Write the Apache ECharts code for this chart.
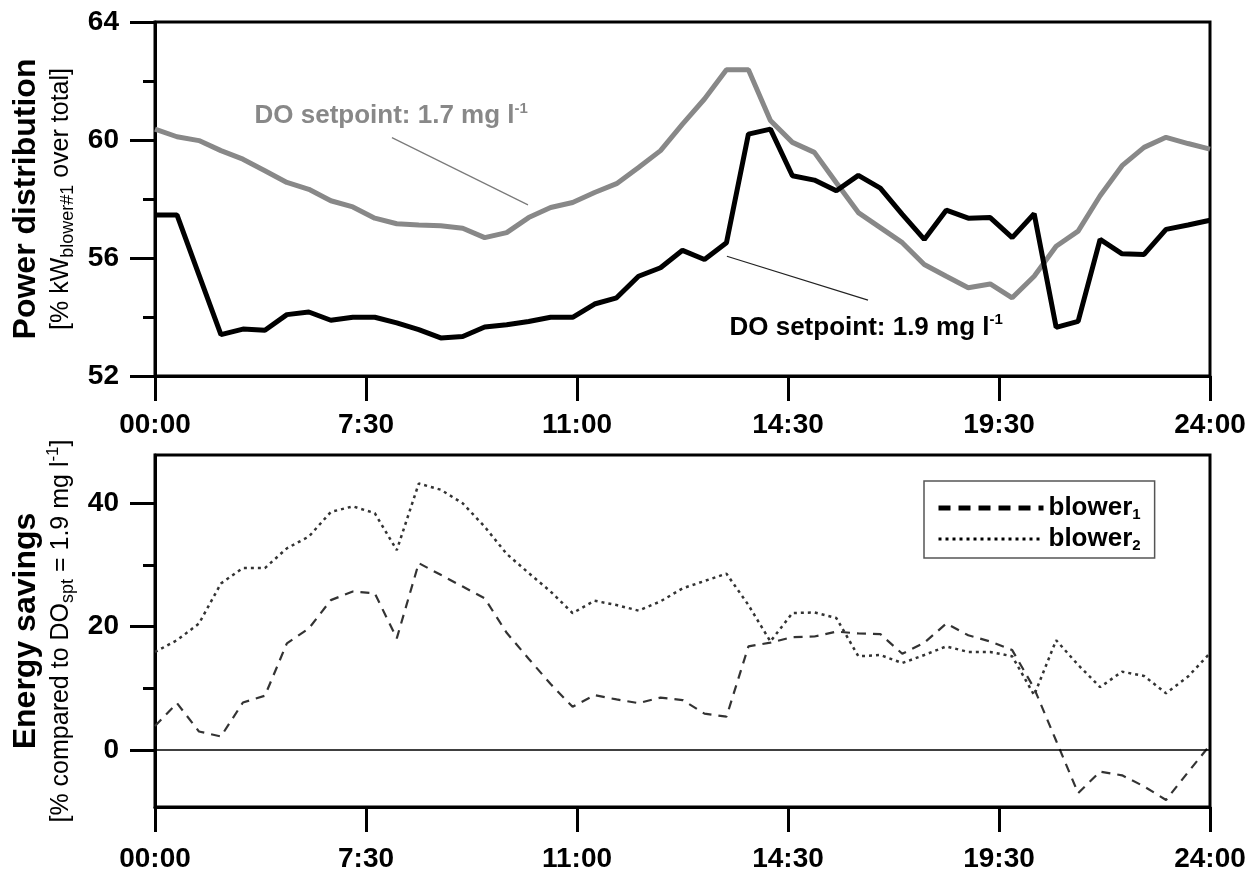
<!DOCTYPE html>
<html><head><meta charset="utf-8">
<script src="https://cdn.jsdelivr.net/npm/echarts@6/dist/echarts.min.js"></script>
<style>html,body{margin:0;padding:0;background:#fff}#c{width:1260px;height:874px}</style>
</head><body><div id="c"></div>
<script>
// ---- data (half-hourly samples, index 0..48) ----
const timeLabels = ['00:00', '7:30', '11:00', '14:30', '19:30', '24:00'];
const powerDO19 = [57.46, 57.46, 55.43, 53.40, 53.59, 53.55, 54.08, 54.17, 53.89, 53.99, 53.99, 53.80, 53.57, 53.29, 53.34, 53.66, 53.74,
  53.85, 53.99, 53.99, 54.44, 54.65, 55.38, 55.67, 56.26, 55.95, 56.52, 60.20, 60.37, 58.79, 58.64, 58.28, 58.80,
  58.37, 57.48, 56.63, 57.62, 57.35, 57.37, 56.69, 57.50, 53.65, 53.85, 56.63, 56.14, 56.12, 56.97, 57.12, 57.28];
const powerDO17 = [60.37, 60.11, 59.98, 59.64, 59.35, 58.96, 58.56, 58.33, 57.94, 57.73, 57.35, 57.16, 57.12, 57.09, 57.01, 56.69, 56.86,
  57.37, 57.71, 57.88, 58.22, 58.52, 59.07, 59.64, 60.54, 61.39, 62.38, 62.38, 60.66, 59.92, 59.58, 58.55, 57.54,
  57.03, 56.52, 55.78, 55.38, 54.99, 55.12, 54.65, 55.38, 56.40, 56.91, 58.11, 59.13, 59.75, 60.09, 59.88, 59.69];
const savingsBlower1 = [3.9, 7.6, 3.0, 2.2, 7.7, 8.8, 17.3, 19.7, 24.3, 25.7, 25.4, 18.1, 30.3, 28.4, 26.5, 24.6, 19.0,
  14.8, 10.7, 7.0, 8.9, 8.2, 7.6, 8.5, 8.1, 5.9, 5.4, 16.8, 17.4, 18.3, 18.4, 19.2, 18.9,
  18.8, 15.6, 17.4, 20.5, 18.6, 17.6, 16.2, 10.0, 1.5, -7.0, -3.5, -4.1, -5.9, -8.1, -3.6, 0.8];
const savingsBlower2 = [15.9, 17.8, 20.5, 27.0, 29.5, 29.5, 32.7, 34.6, 38.6, 39.5, 38.4, 32.4, 43.2, 42.2, 40.0, 36.2, 31.8,
  28.7, 25.7, 22.2, 24.2, 23.5, 22.6, 24.1, 26.2, 27.4, 28.6, 23.5, 17.6, 22.2, 22.3, 21.4, 15.2,
  15.4, 14.1, 15.4, 16.8, 15.9, 15.9, 15.2, 8.9, 17.8, 13.8, 10.2, 12.7, 12.0, 9.2, 11.9, 15.7];
const powerTickValues = [52, 56, 60, 64];
const savingsTickValues = [0, 20, 40];
const savingsMinorTickValues = [10, 30];

const FONT = "'Liberation Sans', Arial, Helvetica, sans-serif";
const last = powerDO19.length - 1;
const tickPos = timeLabels.map((_, k) => k * last / (timeLabels.length - 1));
const toXY = arr => arr.map((v, i) => [i, v]);

function xAxisCfg(gridIndex, margin) {
  return {
    type: 'value', gridIndex: gridIndex, min: 0, max: last,
    axisLine: { show: true, onZero: false, lineStyle: { color: '#000', width: 3 } },
    axisTick: { show: true, customValues: tickPos, length: 25, lineStyle: { color: '#000', width: 3 } },
    axisLabel: {
      customValues: tickPos, margin: margin, color: '#000', fontSize: 28, fontWeight: 'bold', fontFamily: FONT,
      formatter: v => { const k = tickPos.findIndex(t => Math.abs(t - v) < 1e-6); return k >= 0 ? timeLabels[k] : ''; }
    },
    splitLine: { show: false }
  };
}
const nameRich = {
  t: { fontSize: 32, fontWeight: 'bold', lineHeight: 38, fontFamily: FONT, color: '#000' },
  s: { fontSize: 25, lineHeight: 32, fontFamily: FONT, color: '#000' },
  sub: { fontSize: 18, lineHeight: 18, verticalAlign: 'bottom', fontFamily: FONT, color: '#000' },
  sup: { fontSize: 17, lineHeight: 17, verticalAlign: 'top', fontFamily: FONT, color: '#000' }
};
const labelCfg = { margin: 36, color: '#000', fontSize: 28, fontWeight: 'bold', fontFamily: FONT };

const annRich = (color) => ({
  t: { fontSize: 26, fontWeight: 'bold', fontFamily: FONT, color: color, lineHeight: 30 },
  sup: { fontSize: 15, fontWeight: 'bold', fontFamily: FONT, color: color, lineHeight: 16, verticalAlign: 'top' }
});

const chart = echarts.init(document.getElementById('c'), null, { renderer: 'canvas' });
chart.setOption({
  animation: false,
  backgroundColor: '#fff',
  grid: [
    { left: 155, right: 50, top: 22, height: 354, show: true, borderColor: '#000', borderWidth: 3, outerBoundsMode: 'none' },
    { left: 155, right: 50, top: 455, height: 352, show: true, borderColor: '#000', borderWidth: 3, outerBoundsMode: 'none' }
  ],
  xAxis: [xAxisCfg(0, 35), xAxisCfg(1, 38)],
  yAxis: [
    {
      type: 'value', gridIndex: 0, min: 52, max: 64, interval: 4,
      axisLine: { show: true, lineStyle: { color: '#000', width: 3 } },
      axisTick: { show: true, customValues: powerTickValues, length: 25, lineStyle: { color: '#000', width: 3 } },
      minorTick: { show: true, splitNumber: 2, length: 12, lineStyle: { color: '#000', width: 3 } },
      axisLabel: Object.assign({ customValues: powerTickValues }, labelCfg),
      splitLine: { show: false }, minorSplitLine: { show: false },
      name: '{t|Power distribution}\n{s|[% kW}{sub|blower#1}{s| over total]}',
      nameLocation: 'middle', nameRotate: 90, nameGap: 76,
      nameTextStyle: { rich: nameRich, align: 'center' }
    },
    {
      type: 'value', gridIndex: 1, min: -9.24, max: 47.83,
      axisLine: { show: true, onZero: false, lineStyle: { color: '#000', width: 3 } },
      axisTick: { show: true, customValues: savingsTickValues, length: 25, lineStyle: { color: '#000', width: 3 } },
      axisLabel: Object.assign({ customValues: savingsTickValues }, labelCfg),
      splitLine: { show: false },
      name: '{t|Energy savings}\n{s|[% compared to DO}{sub|spt}{s| = 1.9 mg l}{sup|-1}{s|]}',
      nameLocation: 'middle', nameRotate: 90, nameGap: 76,
      nameTextStyle: { rich: nameRich, align: 'center' }
    },
    {
      type: 'value', gridIndex: 1, min: -9.24, max: 47.83, position: 'left',
      axisLine: { show: false },
      axisTick: { show: true, customValues: savingsMinorTickValues, length: 12, lineStyle: { color: '#000', width: 3 } },
      axisLabel: { show: false },
      splitLine: { show: false }
    }
  ],
  legend: {
    orient: 'vertical', left: 924, top: 481,
    itemWidth: 105, itemHeight: 14, itemGap: 4, itemTextGap: 6,
    padding: [14, 14, 5, 12],
    borderColor: '#555', borderWidth: 1.5, backgroundColor: '#fff',
    selectedMode: false,
    itemStyle: { opacity: 0 },
    data: [
      { name: 'blower1', itemStyle: { opacity: 0 }, lineStyle: { width: 5, type: [12, 8], color: '#000' } },
      { name: 'blower2', itemStyle: { opacity: 0 }, lineStyle: { width: 3, type: [3, 4], color: '#000' } }
    ],
    formatter: name => '{b|blower}{s|' + name.slice(-1) + '}',
    textStyle: {
      rich: {
        b: { fontSize: 26, fontWeight: 'bold', fontFamily: FONT, color: '#000', lineHeight: 28 },
        s: { fontSize: 15, fontWeight: 'bold', fontFamily: FONT, color: '#000', lineHeight: 15, verticalAlign: 'bottom' }
      }
    }
  },
  series: [
    {
      name: 'DO setpoint 1.7', type: 'line', xAxisIndex: 0, yAxisIndex: 0, data: toXY(powerDO17),
      symbol: 'none', lineStyle: { color: '#888888', width: 5 }, itemStyle: { color: '#888888' }, z: 2,
      markLine: {
        silent: true, symbol: ['none', 'none'], label: { show: false },
        lineStyle: { color: '#7a7a7a', width: 1.2, type: 'solid' },
        data: [[{ coord: [10.78, 60.08] }, { coord: [16.97, 57.80] }]]
      },
      markPoint: {
        silent: true, symbol: 'circle', symbolSize: 1, itemStyle: { color: 'rgba(0,0,0,0)' },
        label: { show: true, position: [0, 0], align: 'left', verticalAlign: 'middle', formatter: '{t|DO setpoint: 1.7 mg l}{sup|-1}', rich: annRich('#888888') },
        data: [{ coord: [4.55, 60.79] }]
      }
    },
    {
      name: 'DO setpoint 1.9', type: 'line', xAxisIndex: 0, yAxisIndex: 0, data: toXY(powerDO19),
      symbol: 'none', lineStyle: { color: '#000', width: 5 }, itemStyle: { color: '#000' }, z: 3,
      markLine: {
        silent: true, symbol: ['none', 'none'], label: { show: false },
        lineStyle: { color: '#222', width: 1.2, type: 'solid' },
        data: [[{ coord: [26.02, 56.06] }, { coord: [32.44, 54.57] }]]
      },
      markPoint: {
        silent: true, symbol: 'circle', symbolSize: 1, itemStyle: { color: 'rgba(0,0,0,0)' },
        label: { show: true, position: [0, 0], align: 'left', verticalAlign: 'middle', formatter: '{t|DO setpoint: 1.9 mg l}{sup|-1}', rich: annRich('#000') },
        data: [{ coord: [26.16, 53.62] }]
      }
    },
    {
      name: 'blower1', type: 'line', xAxisIndex: 1, yAxisIndex: 1, data: toXY(savingsBlower1),
      symbol: 'none', lineStyle: { color: '#333', width: 2.2, type: [9, 7] }, itemStyle: { color: '#333' },
      markLine: {
        silent: true, symbol: ['none', 'none'], label: { show: false },
        lineStyle: { color: '#000', width: 1.5, type: 'solid' },
        data: [{ yAxis: 0 }]
      }
    },
    {
      name: 'blower2', type: 'line', xAxisIndex: 1, yAxisIndex: 1, data: toXY(savingsBlower2),
      symbol: 'none', lineStyle: { color: '#333', width: 2.5, type: [3, 4] }, itemStyle: { color: '#333' }
    }
  ]
});
</script></body></html>
